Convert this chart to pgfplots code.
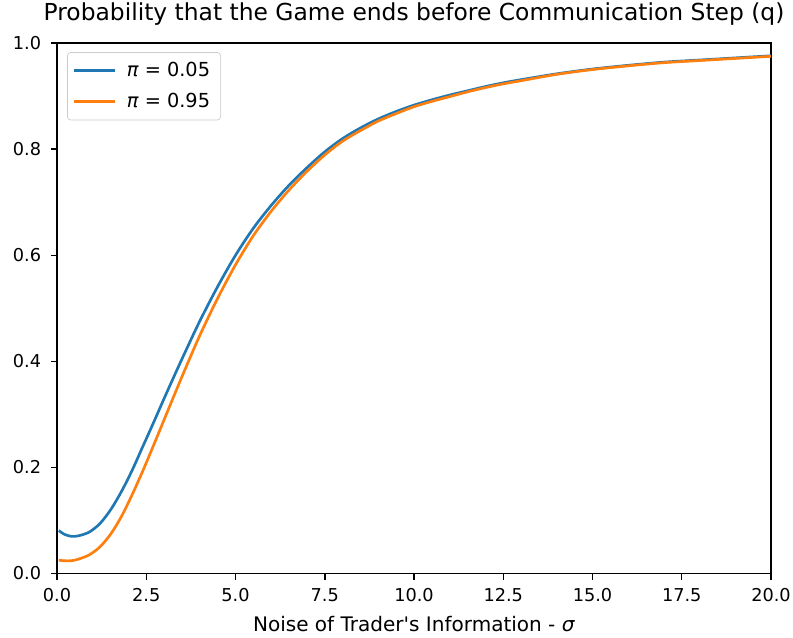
\documentclass[border=0pt]{standalone}
\usepackage{fontspec}
\setmainfont{DejaVu Sans}
\usepackage{pgfplots}
\pgfplotsset{compat=1.18}
\usepackage{pgfplotstable}

\definecolor{mplblue}{HTML}{1F77B4}
\definecolor{mplorange}{HTML}{FF7F0E}

% pi = 0.05
\pgfplotstableread{
x y
0.05 0.081
0.2 0.074
0.4 0.070
0.6 0.071
0.9 0.078
1.2 0.094
1.5 0.120
1.8 0.154
2.1 0.194
2.4 0.239
2.7 0.284
3.0 0.330
3.3 0.375
3.6 0.419
4.0 0.476
4.5 0.541
5.0 0.600
5.5 0.651
6.0 0.694
6.5 0.732
7.0 0.765
7.5 0.795
8.0 0.820
8.5 0.840
9.0 0.857
9.5 0.871
10.0 0.883
10.5 0.893
11.0 0.902
11.5 0.910
12.0 0.918
12.5 0.925
13.0 0.931
14.0 0.942
15.0 0.951
16.0 0.958
17.0 0.964
18.0 0.968
19.0 0.972
20.0 0.976
}\lowpi

% pi = 0.95
\pgfplotstableread{
x y
0.05 0.025
0.2 0.024
0.4 0.024
0.6 0.027
0.9 0.035
1.2 0.050
1.5 0.074
1.8 0.107
2.1 0.148
2.4 0.193
2.7 0.241
3.0 0.290
3.3 0.339
3.6 0.387
4.0 0.449
4.5 0.519
5.0 0.582
5.5 0.637
6.0 0.683
6.5 0.723
7.0 0.758
7.5 0.789
8.0 0.815
8.5 0.835
9.0 0.853
9.5 0.867
10.0 0.880
10.5 0.890
11.0 0.899
11.5 0.908
12.0 0.916
12.5 0.923
13.0 0.929
14.0 0.941
15.0 0.950
16.0 0.957
17.0 0.963
18.0 0.967
19.0 0.971
20.0 0.975
}\highpi

\begin{document}
\begin{tikzpicture}
\begin{axis}[
    width=403pt, height=299.4pt,
    scale only axis,
    xmin=0, xmax=20,
    ymin=0, ymax=1,
    xtick={0,2.5,...,20},
    ytick={0,0.2,...,1.0},
    xticklabel style={yshift=-1.5pt, /pgf/number format/.cd, fixed, fixed zerofill, precision=1},
    yticklabel style={xshift=-2pt, /pgf/number format/.cd, fixed, fixed zerofill, precision=1},
    /pgf/number format/assume math mode=true,
    tick align=outside,
    tick pos=left,
    major tick length=3.5pt,
    axis line style={line width=0.8pt},
    every tick/.style={black, line width=0.8pt},
    tick label style={font=\fontsize{10}{12}\selectfont},
    title={Probability that the Game ends before Communication Step (q)},
    title style={font=\fontsize{13.2}{15}\selectfont, anchor=base,
        at={(axis description cs:0.5,1)}, yshift=7pt},
    xlabel={Noise of Trader\textquotesingle s Information - \textit{σ}},
    xlabel style={font=\fontsize{11.3}{13}\selectfont, anchor=base,
        at={(axis description cs:0.5,0)}, yshift=-33pt},
    legend style={at={(axis description cs:0.014,0.983)}, anchor=north west,
        draw=black!20, rounded corners=2pt, font=\fontsize{10.9}{13}\selectfont,
        inner xsep=3pt, inner ysep=2.5pt, row sep=2pt, column sep=3pt,
        nodes={inner sep=3pt}},
    legend cell align=left,
    legend image code/.code={\draw[#1, line width=1.5pt] (0pt,0pt) -- (23pt,0pt);},
]
\addplot[mplblue, line width=1.5pt, smooth] table {\lowpi};
\addlegendentry{\textit{π} = 0.05}
\addplot[mplorange, line width=1.5pt, smooth] table {\highpi};
\addlegendentry{\textit{π} = 0.95}
\end{axis}
\pgfresetboundingbox
\path ([shift={(-32.2pt,-36.2pt)}]current axis.south west)
    rectangle ([shift={(12.4pt,24.3pt)}]current axis.north east);
\end{tikzpicture}
\end{document}
